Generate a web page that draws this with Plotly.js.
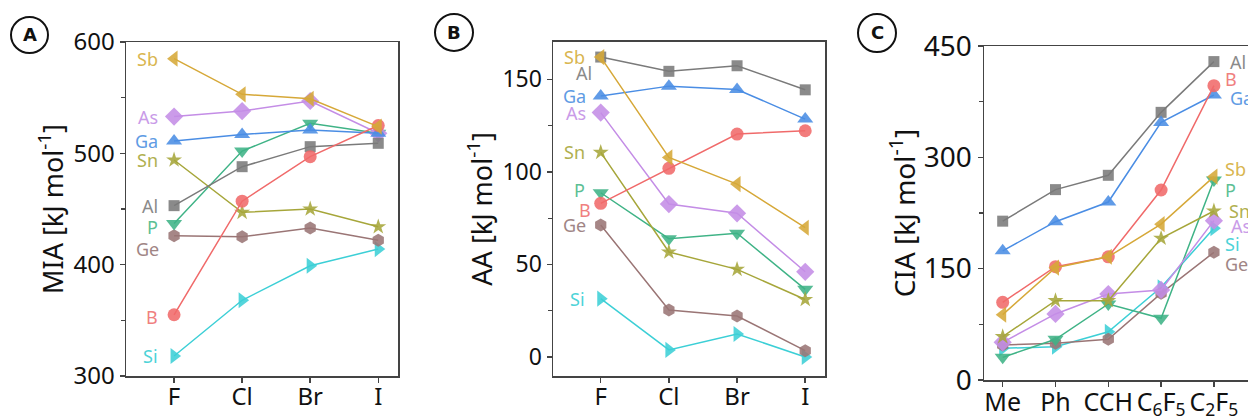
<!DOCTYPE html>
<html>
<head>
<meta charset="utf-8">
<script src="https://cdn.plot.ly/plotly-3.0.1.min.js"></script>
<style>
  html, body { margin: 0; padding: 0; overflow: hidden; background: #fff; }
  #chart { width: 1290px; height: 419px; }
</style>
</head>
<body>
<div id="chart"></div>
<script>
// ---------------- data ----------------
const halides = ['F', 'Cl', 'Br', 'I'];
const ligands = ['Me', 'Ph', 'CCH', 'C<sub>6</sub>F<sub>5</sub>', 'C<sub>2</sub>F<sub>5</sub>'];
const elements = ['Si', 'Ge', 'P', 'As', 'Sn', 'Al', 'Ga', 'B', 'Sb'];

// Panel A: MIA (kJ/mol) for F, Cl, Br, I
const MIA_Si = [318, 368, 399, 414];
const MIA_Ge = [426, 425, 433, 422];
const MIA_P  = [437, 502, 527, 518];
const MIA_As = [533, 538, 547, 518];
const MIA_Sn = [494, 447, 450, 434];
const MIA_Al = [453, 488, 506, 509];
const MIA_Ga = [511, 517, 521, 518];
const MIA_B  = [355, 457, 497, 525];
const MIA_Sb = [585, 553, 549, 524];

// Panel B: AA (kJ/mol) for F, Cl, Br, I
const AA_Si = [31.5, 3.8, 12.4, 0];
const AA_Ge = [71.3, 25.4, 22.1, 3.4];
const AA_P  = [88.7, 63.9, 66.8, 36.5];
const AA_As = [132, 82.6, 77.6, 46];
const AA_Sn = [110.5, 56.7, 47.3, 31];
const AA_Al = [162, 154.3, 157.3, 144.3];
const AA_Ga = [141, 146.3, 144.5, 128.5];
const AA_B  = [83, 101.9, 120.4, 122.2];
const AA_Sb = [162, 107.8, 93.4, 69.8];

// Panel C: CIA (kJ/mol) for Me, Ph, CCH, C6F5, C2F5
const CIA_Si = [42.7, 44.9, 65, 124.9, 204.4];
const CIA_Ge = [47.2, 49.4, 54.8, 116.8, 172];
const CIA_P  = [30.5, 54.8, 102.4, 83.1, 269.5];
const CIA_As = [50.8, 89, 115.9, 121.3, 214.7];
const CIA_Sn = [58.4, 106.9, 106.9, 190.9, 227.7];
const CIA_Al = [214, 256.5, 275.8, 360.6, 429];
const CIA_Ga = [174, 213.3, 239.8, 347, 384];
const CIA_B  = [104.7, 152.7, 166, 256, 396.6];
const CIA_Sb = [88, 151.3, 166, 210, 274];

const dataA = {Si: MIA_Si, Ge: MIA_Ge, P: MIA_P, As: MIA_As, Sn: MIA_Sn, Al: MIA_Al, Ga: MIA_Ga, B: MIA_B, Sb: MIA_Sb};
const dataB = {Si: AA_Si, Ge: AA_Ge, P: AA_P, As: AA_As, Sn: AA_Sn, Al: AA_Al, Ga: AA_Ga, B: AA_B, Sb: AA_Sb};
const dataC = {Si: CIA_Si, Ge: CIA_Ge, P: CIA_P, As: CIA_As, Sn: CIA_Sn, Al: CIA_Al, Ga: CIA_Ga, B: CIA_B, Sb: CIA_Sb};

// ---------------- styles ----------------
const style = {
  Sb: {color: '#d6a838', label: '#d9b650', symbol: 'triangle-left', size: 14},
  As: {color: '#c48de6', label: '#c99be8', symbol: 'diamond', size: 14},
  Ga: {color: '#4a8de4', label: '#5f9be4', symbol: 'triangle-up', size: 14},
  Sn: {color: '#a6a63a', label: '#b0b050', symbol: 'star', size: 12},
  Al: {color: '#7a7a7a', label: '#8a8a8a', symbol: 'square', size: 11},
  P:  {color: '#3fb386', label: '#5cbf95', symbol: 'triangle-down', size: 14},
  Ge: {color: '#9a7575', label: '#a08585', symbol: 'hexagon', size: 13},
  B:  {color: '#f06a6a', label: '#f08080', symbol: 'circle', size: 13},
  Si: {color: '#3ccfd6', label: '#4dd3d8', symbol: 'triangle-right', size: 14}
};

// label offsets [xshift, yshift]
const offA = {Sb:[-14,0], As:[-14,0], Ga:[-14,0], Sn:[-14,0], Al:[-14,0], P:[-14,-4], Ge:[-13,-13], B:[-14,-2], Si:[-14,0]};
const offB = {Sb:[-14,0], Al:[-7,-16], Ga:[-13,0], As:[-13,0], Sn:[-14,0], P:[-14,3], B:[-8,-7], Ge:[-13,0], Si:[-14,0]};
const offC = {Al:[14,0], B:[9,7], Ga:[14,-3], Sb:[9,8], P:[9,-10], Sn:[13,0], As:[15,-5], Si:[9,-16], Ge:[9,-12]};

const W = 1290, H = 419;
const px = v => v / W;
const py = v => 1 - v / H;

const traces = [];
const annotations = [];

function addPanel(data, cats, xa, ya, offs, side) {
  elements.forEach(el => {
    const s = style[el];
    traces.push({
      type: 'scatter', mode: 'lines+markers',
      x: cats, y: data[el], xaxis: xa, yaxis: ya,
      line: {color: s.color, width: 1.5},
      marker: {symbol: s.symbol, size: s.size, color: s.color, opacity: 0.88, line: {width: 0}},
      showlegend: false, cliponaxis: false
    });
    const idx = side === 'left' ? 0 : cats.length - 1;
    annotations.push({
      xref: xa, yref: ya, x: cats[idx], y: data[el][idx],
      text: el, showarrow: false,
      xanchor: side === 'left' ? 'right' : 'left', yanchor: 'middle',
      xshift: offs[el][0], yshift: offs[el][1],
      font: {family: 'Noto Sans, sans-serif', size: 18, color: s.label}
    });
  });
}

addPanel(dataA, halides, 'x', 'y', offA, 'left');
addPanel(dataB, halides, 'x2', 'y2', offB, 'left');
addPanel(dataC, ligands, 'x3', 'y3', offC, 'right');

const font = (size) => ({family: 'Noto Sans, sans-serif', size: size, color: '#111'});

function xAxis(domain, range, anchor, fs) {
  return {
    domain: domain, range: range, anchor: anchor, type: 'category',
    showline: true, linecolor: '#444', linewidth: 1.5, mirror: true,
    ticks: 'outside', ticklen: 5, tickwidth: 1.5, tickcolor: '#444',
    ticklabelstandoff: -6,
    showgrid: false, zeroline: false, tickfont: font(fs), fixedrange: true
  };
}
function yAxis(domain, range, anchor, dtick, minor, title, fs, tfs, standoff) {
  return {
    domain: domain, range: range, anchor: anchor,
    showline: true, linecolor: '#444', linewidth: 1.5, mirror: true,
    ticks: 'outside', ticklen: 5, tickwidth: 1.5, tickcolor: '#444',
    dtick: dtick, tick0: 0,
    minor: {dtick: minor, tick0: 0, ticks: 'outside', ticklen: 4, tickwidth: 1.2, tickcolor: '#444', showgrid: false},
    showgrid: false, zeroline: false, tickfont: font(fs),
    title: {text: title, font: font(tfs), standoff: standoff}, fixedrange: true
  };
}

const shapes = [
  {type: 'circle', xref: 'paper', yref: 'paper', x0: px(11), x1: px(48), y0: py(53), y1: py(17), line: {color: '#111', width: 2}},
  {type: 'circle', xref: 'paper', yref: 'paper', x0: px(435), x1: px(473), y0: py(51), y1: py(14), line: {color: '#111', width: 2}},
  {type: 'circle', xref: 'paper', yref: 'paper', x0: px(858), x1: px(896), y0: py(52), y1: py(14), line: {color: '#111', width: 2}}
];
[['A', 29.5, 35], ['B', 454, 32.5], ['C', 877, 33]].forEach(([t, cx, cy]) => {
  annotations.push({xref: 'paper', yref: 'paper', x: px(cx), y: py(cy), text: '<b>' + t + '</b>',
    showarrow: false, xanchor: 'center', yanchor: 'middle',
    font: {family: 'DejaVu Sans, sans-serif', size: 18, color: '#111'}});
});

const layout = {
  width: W, height: H,
  margin: {l: 0, r: 0, t: 0, b: 0},
  paper_bgcolor: '#fff', plot_bgcolor: '#fff',
  showlegend: false,
  xaxis: xAxis([px(126), px(398)], [-0.706, 3.29], 'y', 24),
  yaxis: yAxis([py(376), py(42)], [300, 600], 'x', 100, 50, 'MIA [kJ mol<sup>-1</sup>]', 24, 27, 2),
  xaxis2: xAxis([px(553), px(825)], [-0.70, 3.29], 'y2', 24),
  yaxis2: yAxis([py(376), py(41.7)], [-10.3, 170.3], 'x2', 50, 25, 'AA [kJ mol<sup>-1</sup>]', 23, 27, 2),
  xaxis3: xAxis([px(984), px(1275)], [-0.354, 5.157], 'y3', 25),
  yaxis3: yAxis([py(380), py(46)], [0, 450], 'x3', 150, 75, 'CIA [kJ mol<sup>-1</sup>]', 28, 28, 0),
  shapes: shapes,
  annotations: annotations
};

Plotly.newPlot('chart', traces, layout, {staticPlot: true, displayModeBar: false});
</script>
</body>
</html>
